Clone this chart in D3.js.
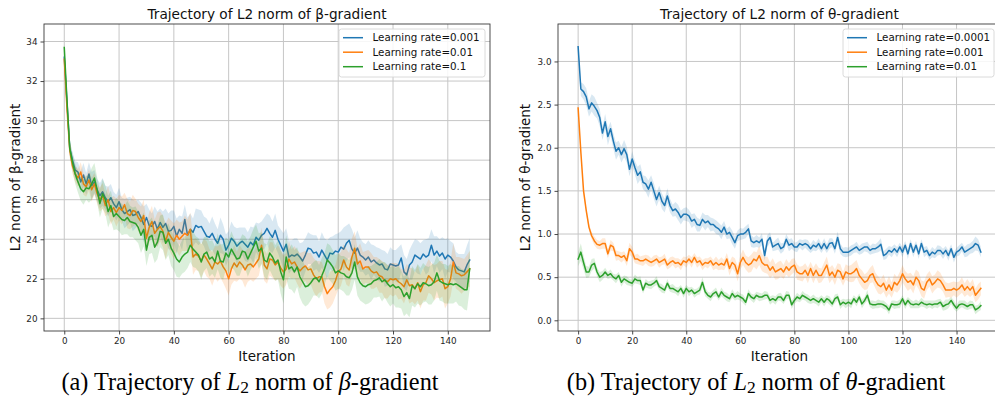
<!DOCTYPE html>
<html><head><meta charset="utf-8">
<script src="https://cdn.jsdelivr.net/npm/d3@7"></script>
<style>
html,body{margin:0;padding:0;background:#fff;}
svg{display:block;}
text{font-family:"DejaVu Sans",sans-serif;}
</style></head>
<body>
<svg id="chart" width="995" height="407"></svg>
<script>
// ---------- DATA ----------
const xTicks = [0, 20, 40, 60, 80, 100, 120, 140];
const betaYTicks = [20, 22, 24, 26, 28, 30, 32, 34];
const thetaYTicks = [0.0, 0.5, 1.0, 1.5, 2.0, 2.5, 3.0];

const betaLabels = ["Learning rate=0.001", "Learning rate=0.01", "Learning rate=0.1"];
const thetaLabels = ["Learning rate=0.0001", "Learning rate=0.001", "Learning rate=0.01"];

const betaBlue = [33.2,30.9,28.6,28.0,27.5,27.4,26.9,27.25,26.8,27.3,
26.7,26.9,26.5,26.2,26.4,26.1,25.9,26.1,25.8,25.6,
25.9,25.5,25.3,25.4,25.5,25.2,25.25,25.4,25.1,24.75,
25.1,24.7,24.65,24.9,24.5,24.85,24.6,24.8,24.4,24.45,
24.65,24.15,24.5,24.3,25.0,24.2,24.5,24.35,24.7,24.6,
24.65,24.4,24.15,24.1,24.3,24.0,23.8,24.2,24.0,23.45,
23.7,24.05,23.9,23.65,23.8,23.9,23.75,23.6,23.85,23.7,
24.1,23.95,24.2,24.3,24.55,24.3,24.1,24.45,24.0,23.7,
23.4,23.75,23.1,23.2,23.15,23.25,23.1,22.9,23.2,23.55,
23.5,23.3,23.35,23.1,23.45,23.2,22.95,23.3,23.25,23.4,
23.35,23.6,23.5,23.8,23.95,23.5,23.3,23.55,23.2,23.1,
22.95,23.1,22.85,22.95,22.8,22.7,22.75,22.5,22.45,22.75,
22.7,22.65,22.7,23.05,22.35,22.2,22.7,22.85,23.2,23.1,
23.0,23.25,23.1,23.2,23.7,23.2,23.4,23.15,23.3,23.0,
23.2,23.1,22.9,22.6,22.45,22.4,22.35,22.7,22.95];

const betaOrange = [33.1,30.6,28.5,27.7,27.3,27.1,27.4,26.8,26.65,27.0,
26.5,26.8,26.3,26.0,26.2,25.7,26.0,25.4,25.6,25.35,
25.6,25.45,25.75,25.3,25.2,25.45,25.4,25.1,24.9,25.2,
24.05,24.6,24.9,24.3,24.5,24.65,24.4,23.9,24.35,24.1,
23.9,24.2,24.0,24.15,24.3,24.2,24.5,23.1,23.25,23.15,
22.9,23.2,23.0,22.75,22.5,22.85,22.75,22.9,22.6,22.4,
22.0,22.5,22.8,22.6,22.85,22.7,22.45,22.7,22.75,22.6,
22.8,23.0,23.7,22.7,22.5,23.0,22.95,22.7,22.85,22.55,
22.35,22.5,23.0,22.75,22.85,22.6,22.4,22.55,22.65,22.45,
22.5,22.2,22.0,22.1,22.1,21.6,21.25,21.45,21.6,21.9,
22.35,22.5,22.95,22.6,22.45,23.1,23.55,22.75,22.9,22.5,
22.6,22.6,22.4,22.3,22.35,22.15,22.1,21.9,21.85,22.0,
21.95,22.0,21.85,21.75,21.6,21.95,21.65,21.7,21.5,21.8,
21.35,21.7,21.8,22.15,22.0,21.8,21.9,21.95,22.0,21.5,
21.6,22.0,22.85,22.3,22.25,22.15,22.2,22.35,22.5];

const betaGreen = [33.7,31.0,28.6,27.9,27.3,26.9,26.55,26.4,26.6,26.55,
26.8,27.1,26.5,25.8,26.3,26.0,25.4,25.7,25.15,25.3,
25.15,25.0,24.95,25.1,24.9,24.85,24.8,24.6,24.2,24.5,
23.45,24.1,24.2,23.6,23.85,24.4,24.35,23.8,24.0,23.55,
23.3,23.0,22.85,23.1,23.25,23.35,23.7,23.5,23.35,23.2,
22.85,23.25,23.35,23.0,23.1,22.85,23.4,22.9,22.85,23.3,
23.1,23.5,23.25,23.0,23.05,23.4,23.35,23.0,23.3,23.6,
23.9,23.4,23.55,22.95,22.85,23.3,23.1,22.8,22.95,22.35,
21.95,23.1,22.5,22.6,22.35,22.6,22.1,21.85,21.6,21.65,
21.8,22.0,22.05,21.85,22.15,22.5,22.95,22.8,22.6,22.3,
22.4,22.3,22.25,22.1,22.05,22.3,22.85,22.1,21.8,21.65,
21.6,21.7,21.75,21.9,21.95,22.05,21.85,21.95,21.75,21.6,
21.7,21.55,21.6,21.45,21.1,21.3,21.0,21.65,21.5,21.75,
21.6,21.8,21.75,21.65,21.7,21.85,22.3,21.9,21.8,21.75,
21.7,21.75,21.7,21.75,21.65,21.55,21.45,21.45,22.5];

const betaBandBlue = [0.15,0.3,0.35,0.4,0.45,0.5,0.55,0.6,0.55,0.6,
0.7,0.6,0.55,0.65,0.7,0.6,0.75,0.7,0.6,0.65,
0.7,0.6,0.75,0.7,0.65,0.8,0.7,0.6,0.75,0.9,
0.7,0.8,0.65,0.75,0.9,0.7,0.8,0.75,0.9,1.0,
0.8,0.9,0.7,0.85,0.75,0.9,0.8,0.7,0.85,0.9,
0.8,0.75,0.9,0.7,0.85,0.8,0.7,0.9,0.75,0.8,
0.7,0.85,0.75,0.9,0.8,0.7,0.85,0.75,0.8,0.9,
0.75,0.85,0.7,0.8,0.75,0.9,0.8,0.85,0.7,0.8,
0.9,0.8,0.85,0.75,0.9,0.8,0.7,0.95,0.85,0.8,
0.75,0.9,0.85,0.8,0.9,0.85,1.0,0.8,0.9,0.85,
0.95,0.8,1.1,0.9,0.85,1.0,0.8,0.9,0.85,0.75,
0.8,0.85,0.9,0.75,0.8,0.85,0.7,0.9,0.8,0.85,
0.75,0.8,0.9,0.7,0.85,0.8,0.75,0.9,0.8,0.85,
0.8,0.7,0.9,0.85,0.8,0.95,0.75,0.85,0.8,1.0,
0.85,0.8,0.9,0.75,0.8,0.85,0.9,1.0,1.1];

const betaBandOrange = [0.15,0.3,0.35,0.4,0.4,0.45,0.5,0.55,0.5,0.55,
0.6,0.55,0.5,0.6,0.65,0.55,0.7,0.65,0.6,0.7,
0.65,0.7,0.6,0.75,0.7,0.8,0.65,0.7,0.75,0.8,
0.7,0.75,0.8,0.7,0.85,0.75,0.8,0.9,0.75,0.85,
0.9,0.8,0.85,0.75,0.9,0.8,0.85,0.9,0.8,0.75,
0.85,0.8,0.9,0.75,0.85,0.8,0.9,0.85,0.8,0.9,
0.85,0.8,0.9,0.75,0.85,0.8,0.9,0.85,0.8,0.75,
0.8,0.85,0.9,0.8,0.75,0.85,0.9,0.8,0.85,0.9,
0.85,0.8,0.9,0.75,0.8,0.85,0.9,0.8,0.75,0.85,
0.8,0.85,0.9,0.8,0.75,0.85,0.8,0.9,0.85,0.8,
0.9,0.85,0.8,0.9,0.85,0.95,0.85,0.8,0.9,0.85,
0.8,0.85,0.9,0.8,0.75,0.85,0.8,0.9,0.85,0.8,
0.85,0.8,0.9,0.75,0.85,0.8,0.9,0.85,0.8,0.9,
0.85,0.8,0.9,0.85,0.8,0.9,0.85,0.95,0.9,1.0,
0.85,0.9,0.95,0.8,0.85,0.9,0.8,0.85,0.9];

const betaBandGreen = [0.2,0.35,0.4,0.45,0.5,0.55,0.6,0.65,0.6,0.7,
0.8,0.75,0.65,0.7,0.75,0.7,0.8,0.75,0.7,0.8,
0.75,0.8,0.7,0.85,0.8,0.75,0.85,0.8,0.9,0.85,
0.8,0.85,0.9,0.8,0.85,0.8,0.9,0.85,0.8,0.9,
0.85,0.9,0.8,0.85,0.9,0.8,0.85,0.9,0.8,0.85,
0.9,0.85,0.8,0.9,0.85,0.8,0.9,0.85,0.9,0.8,
0.85,0.9,0.8,0.85,0.9,0.85,0.8,0.9,0.85,0.9,
0.85,0.9,0.8,0.85,0.9,0.85,0.95,0.9,1.0,1.1,
1.2,1.1,1.0,1.15,1.1,1.0,1.05,1.1,1.0,0.95,
0.9,0.85,0.9,0.85,0.9,0.8,0.85,0.9,0.85,0.9,
0.9,0.85,0.9,0.95,0.9,0.85,0.9,0.95,0.9,0.85,
0.9,0.95,0.9,0.85,0.9,0.95,1.0,0.9,0.95,1.0,
0.95,1.0,1.05,0.95,1.0,1.05,0.95,1.0,0.95,1.0,
0.95,1.0,0.9,0.95,1.0,0.95,0.9,1.0,0.95,1.0,
0.95,1.0,0.95,0.9,1.0,0.95,1.0,1.05,1.0];

const thetaBlue = [3.17,2.68,2.65,2.59,2.45,2.52,2.48,2.43,2.35,2.17,
2.30,2.13,2.22,2.08,1.96,2.00,1.92,1.99,1.92,1.75,
1.87,1.77,1.68,1.72,1.60,1.58,1.52,1.60,1.50,1.40,
1.48,1.38,1.33,1.44,1.33,1.27,1.29,1.25,1.19,1.23,
1.23,1.21,1.15,1.17,1.11,1.10,1.17,1.13,1.15,1.11,
1.11,1.08,1.06,1.02,1.08,1.00,1.02,0.96,0.90,0.98,
1.00,1.00,1.02,1.06,0.92,0.90,0.92,0.90,0.94,0.75,
0.92,0.96,0.85,0.87,0.89,0.83,0.85,0.94,0.87,0.89,
0.85,0.85,0.89,0.87,0.89,0.87,0.83,0.87,0.85,0.89,
0.83,0.89,0.83,0.89,0.90,0.83,0.96,0.83,0.79,0.79,
0.79,0.81,0.83,0.85,0.81,0.83,0.85,0.85,0.81,0.83,
0.83,0.85,0.88,0.75,0.77,0.81,0.79,0.83,0.79,0.85,
0.79,0.87,0.77,0.89,0.79,0.87,0.77,0.89,0.79,0.81,
0.75,0.79,0.77,0.81,0.81,0.77,0.81,0.75,0.83,0.73,
0.79,0.81,0.85,0.79,0.81,0.83,0.85,0.89,0.87,0.79];

const thetaOrange = [2.46,1.95,1.50,1.27,1.08,0.98,0.92,0.88,0.87,0.89,
0.89,0.77,0.87,0.85,0.75,0.75,0.73,0.75,0.69,0.83,
0.79,0.71,0.71,0.69,0.69,0.71,0.69,0.67,0.69,0.71,
0.67,0.69,0.71,0.64,0.67,0.69,0.66,0.67,0.64,0.69,
0.67,0.71,0.67,0.73,0.67,0.69,0.64,0.67,0.66,0.69,
0.64,0.67,0.64,0.66,0.64,0.71,0.60,0.67,0.64,0.54,
0.67,0.73,0.67,0.64,0.66,0.71,0.69,0.75,0.67,0.64,
0.64,0.58,0.62,0.56,0.58,0.60,0.56,0.62,0.58,0.62,
0.64,0.56,0.54,0.54,0.58,0.52,0.60,0.52,0.58,0.52,
0.52,0.58,0.64,0.52,0.56,0.50,0.58,0.56,0.48,0.56,
0.54,0.54,0.56,0.60,0.52,0.48,0.44,0.46,0.52,0.54,
0.46,0.41,0.39,0.43,0.35,0.41,0.35,0.44,0.41,0.46,
0.54,0.48,0.44,0.46,0.41,0.50,0.46,0.37,0.35,0.44,
0.48,0.41,0.44,0.48,0.46,0.41,0.35,0.35,0.35,0.37,
0.35,0.37,0.41,0.35,0.39,0.35,0.39,0.29,0.33,0.37];

const thetaGreen = [0.71,0.79,0.67,0.56,0.56,0.64,0.66,0.56,0.50,0.52,
0.56,0.52,0.54,0.50,0.48,0.52,0.44,0.48,0.46,0.44,
0.43,0.48,0.46,0.46,0.35,0.43,0.41,0.41,0.43,0.46,
0.39,0.37,0.35,0.43,0.37,0.37,0.35,0.33,0.37,0.31,
0.37,0.33,0.35,0.31,0.33,0.35,0.44,0.33,0.29,0.27,
0.31,0.33,0.27,0.33,0.29,0.27,0.25,0.31,0.27,0.29,
0.27,0.25,0.21,0.31,0.27,0.25,0.29,0.27,0.27,0.29,
0.29,0.23,0.25,0.23,0.27,0.27,0.23,0.29,0.29,0.18,
0.23,0.27,0.25,0.29,0.27,0.25,0.23,0.25,0.23,0.21,
0.25,0.21,0.25,0.23,0.19,0.25,0.27,0.18,0.21,0.19,
0.21,0.19,0.25,0.21,0.27,0.19,0.23,0.29,0.19,0.18,
0.18,0.19,0.19,0.18,0.16,0.12,0.19,0.18,0.18,0.19,
0.25,0.18,0.23,0.19,0.18,0.19,0.18,0.21,0.19,0.18,
0.19,0.18,0.19,0.19,0.21,0.16,0.18,0.19,0.23,0.18,
0.14,0.18,0.19,0.18,0.16,0.18,0.18,0.12,0.14,0.17];

const thetaBandBlue = [0.02,0.08,0.09,0.1,0.09,0.1,0.11,0.09,0.1,0.08,
0.09,0.1,0.08,0.09,0.1,0.08,0.09,0.1,0.09,0.08,
0.09,0.08,0.1,0.09,0.08,0.09,0.1,0.08,0.09,0.08,
0.08,0.09,0.08,0.09,0.08,0.07,0.08,0.09,0.08,0.07,
0.08,0.07,0.08,0.07,0.08,0.07,0.08,0.09,0.07,0.08,
0.07,0.08,0.07,0.08,0.07,0.06,0.07,0.08,0.07,0.06,
0.07,0.06,0.07,0.06,0.07,0.06,0.07,0.06,0.07,0.06,
0.07,0.06,0.05,0.06,0.07,0.06,0.05,0.06,0.07,0.06,
0.05,0.06,0.05,0.06,0.05,0.06,0.05,0.06,0.05,0.06,
0.05,0.06,0.05,0.06,0.05,0.06,0.07,0.06,0.05,0.06,
0.05,0.06,0.05,0.06,0.05,0.06,0.05,0.06,0.05,0.06,
0.05,0.06,0.07,0.05,0.06,0.05,0.06,0.05,0.06,0.05,
0.06,0.05,0.06,0.05,0.06,0.05,0.06,0.05,0.06,0.05,
0.05,0.06,0.05,0.06,0.05,0.06,0.05,0.06,0.05,0.06,
0.05,0.06,0.05,0.06,0.07,0.06,0.07,0.08,0.07,0.06];

const thetaBandOrange = [0.01,0.02,0.03,0.03,0.04,0.04,0.05,0.05,0.05,0.06,
0.06,0.05,0.06,0.05,0.06,0.05,0.06,0.05,0.06,0.07,
0.06,0.05,0.06,0.05,0.06,0.05,0.06,0.05,0.06,0.05,
0.06,0.05,0.06,0.05,0.06,0.05,0.06,0.05,0.06,0.05,
0.06,0.05,0.06,0.05,0.06,0.05,0.06,0.05,0.06,0.05,
0.06,0.07,0.06,0.07,0.06,0.07,0.08,0.07,0.08,0.09,
0.08,0.09,0.08,0.09,0.1,0.09,0.1,0.11,0.1,0.09,
0.1,0.09,0.1,0.09,0.1,0.09,0.08,0.09,0.08,0.09,
0.08,0.09,0.08,0.09,0.08,0.09,0.08,0.09,0.08,0.09,
0.08,0.09,0.1,0.09,0.08,0.09,0.08,0.09,0.08,0.09,
0.09,0.1,0.11,0.1,0.09,0.1,0.09,0.1,0.09,0.1,
0.09,0.1,0.09,0.1,0.09,0.1,0.09,0.1,0.09,0.1,
0.1,0.09,0.1,0.09,0.1,0.09,0.1,0.09,0.1,0.09,
0.09,0.1,0.09,0.1,0.09,0.08,0.09,0.08,0.09,0.08,
0.09,0.08,0.09,0.08,0.09,0.08,0.09,0.08,0.09,0.08];

const thetaBandGreen = [0.08,0.1,0.08,0.07,0.06,0.07,0.06,0.05,0.06,0.05,
0.05,0.04,0.05,0.04,0.05,0.04,0.05,0.04,0.05,0.04,
0.04,0.05,0.04,0.05,0.04,0.05,0.04,0.05,0.04,0.05,
0.04,0.05,0.04,0.05,0.04,0.05,0.04,0.05,0.04,0.05,
0.04,0.05,0.04,0.05,0.04,0.05,0.06,0.05,0.04,0.05,
0.04,0.05,0.04,0.05,0.04,0.05,0.04,0.05,0.04,0.05,
0.04,0.05,0.04,0.05,0.04,0.05,0.04,0.05,0.04,0.05,
0.04,0.05,0.04,0.05,0.04,0.05,0.04,0.05,0.04,0.05,
0.04,0.05,0.04,0.05,0.04,0.05,0.04,0.05,0.04,0.05,
0.04,0.05,0.04,0.05,0.04,0.05,0.04,0.05,0.04,0.05,
0.04,0.05,0.04,0.05,0.04,0.05,0.04,0.06,0.04,0.05,
0.04,0.05,0.04,0.05,0.04,0.05,0.04,0.05,0.04,0.05,
0.04,0.05,0.04,0.05,0.04,0.05,0.04,0.05,0.04,0.05,
0.04,0.05,0.04,0.05,0.04,0.05,0.06,0.05,0.04,0.05,
0.04,0.05,0.04,0.05,0.04,0.05,0.04,0.05,0.04,0.05];

const colors = ["#1f77b4", "#ff7f0e", "#2ca02c"];

// ---------- DRAW ----------
const svg = d3.select("#chart");

function panel(cfg) {
  const g = svg.append("g");
  const x = d3.scaleLinear().domain(cfg.xDomain).range([cfg.left, cfg.right]);
  const y = d3.scaleLinear().domain(cfg.yDomain).range([cfg.bottom, cfg.top]);
  const clipId = "clip" + cfg.id;
  svg.append("clipPath").attr("id", clipId).append("rect")
    .attr("x", cfg.left).attr("y", cfg.top)
    .attr("width", cfg.right - cfg.left).attr("height", cfg.bottom - cfg.top);

  // grid
  g.append("g").selectAll("line").data(xTicks).join("line")
    .attr("x1", d => x(d)).attr("x2", d => x(d))
    .attr("y1", cfg.top).attr("y2", cfg.bottom)
    .attr("stroke", "#c6c6c6").attr("stroke-width", 1);
  g.append("g").selectAll("line").data(cfg.yTicks).join("line")
    .attr("x1", cfg.left).attr("x2", cfg.right)
    .attr("y1", d => y(d)).attr("y2", d => y(d))
    .attr("stroke", "#c6c6c6").attr("stroke-width", 1);

  const plot = g.append("g").attr("clip-path", `url(#${clipId})`);
  cfg.series.forEach((s, k) => {
    const data = s.values.map((v, i) => ({ i, v, w: s.band[i] }));
    plot.append("path").datum(data)
      .attr("d", d3.area().x(d => x(d.i)).y0(d => y(d.v - d.w)).y1(d => y(d.v + d.w)))
      .attr("fill", colors[k]).attr("fill-opacity", 0.17).attr("stroke", "none");
    plot.append("path").datum(data)
      .attr("d", d3.line().x(d => x(d.i)).y(d => y(d.v)))
      .attr("fill", "none").attr("stroke", colors[k]).attr("stroke-width", 1.5)
      .attr("stroke-linejoin", "round").attr("stroke-linecap", "square");
  });

  // axes
  const xa = g.append("g").attr("transform", `translate(0,${cfg.bottom})`)
    .call(d3.axisBottom(x).tickValues(xTicks).tickSize(3.5).tickPadding(3).tickFormat(d3.format("d")));
  const ya = g.append("g").attr("transform", `translate(${cfg.left},0)`)
    .call(d3.axisLeft(y).tickValues(cfg.yTicks).tickSize(3.5).tickPadding(3).tickFormat(cfg.fmt));
  [xa, ya].forEach(a => {
    a.select(".domain").remove();
    a.selectAll(".tick line").attr("stroke", "#333").attr("stroke-width", 0.9);
    a.selectAll(".tick text").attr("fill", "#262626").style("font-size", "8.8px")
      .style("font-family", "DejaVu Sans");
  });
  // spines
  g.append("rect").attr("x", cfg.left).attr("y", cfg.top)
    .attr("width", cfg.right - cfg.left).attr("height", cfg.bottom - cfg.top)
    .attr("fill", "none").attr("stroke", "#3a3a3a").attr("stroke-width", 0.9);

  // title and labels
  const cx = (cfg.left + cfg.right) / 2;
  g.append("text").attr("x", cx).attr("y", 18.5).attr("text-anchor", "middle")
    .style("font-size", "13.7px").attr("fill", "#111").text(cfg.title);
  g.append("text").attr("x", cx).attr("y", 360.5).attr("text-anchor", "middle")
    .style("font-size", "13.5px").attr("fill", "#111").text("Iteration");
  g.append("text").attr("transform", `translate(${cfg.ylabX},${(cfg.top + cfg.bottom) / 2}) rotate(-90)`)
    .attr("text-anchor", "middle").style("font-size", "13.5px").attr("fill", "#111").text(cfg.ylabel);

  // legend
  const lg = g.append("g");
  lg.append("rect").attr("x", cfg.legX).attr("y", 29).attr("width", cfg.legW).attr("height", 48)
    .attr("rx", 2.5).attr("fill", "#fff").attr("fill-opacity", 0.85)
    .attr("stroke", "#d6d6d6").attr("stroke-width", 0.9);
  cfg.labels.forEach((lab, k) => {
    const yy = 37.7 + k * 14.5;
    lg.append("line").attr("x1", cfg.legX + 4).attr("x2", cfg.legX + 24)
      .attr("y1", yy).attr("y2", yy).attr("stroke", colors[k]).attr("stroke-width", 1.5);
    lg.append("text").attr("x", cfg.legX + 33.5).attr("y", yy + 3.7)
      .style("font-size", "10.3px").attr("fill", "#111").text(lab);
  });
}

panel({
  id: "a", left: 44, right: 490, top: 24, bottom: 331,
  xDomain: [-7.4, 155.4], yDomain: [19.36, 34.885],
  yTicks: betaYTicks, fmt: d3.format("d"),
  title: "Trajectory of L2 norm of β-gradient", ylabel: "L2 norm of β-gradient", ylabX: 19.5,
  labels: betaLabels, legX: 339, legW: 146,
  series: [
    { values: betaBlue, band: betaBandBlue },
    { values: betaOrange, band: betaBandOrange },
    { values: betaGreen, band: betaBandGreen }
  ]
});

panel({
  id: "b", left: 558, right: 1001, top: 24, bottom: 331,
  xDomain: [-7.45, 156.45], yDomain: [-0.124, 3.434],
  yTicks: thetaYTicks, fmt: d3.format(".1f"),
  title: "Trajectory of L2 norm of θ-gradient", ylabel: "L2 norm of θ-gradient", ylabX: 529.5,
  labels: thetaLabels, legX: 843, legW: 151,
  series: [
    { values: thetaBlue, band: thetaBandBlue },
    { values: thetaOrange, band: thetaBandOrange },
    { values: thetaGreen, band: thetaBandGreen }
  ]
});

// captions
function caption(cx, letter, sym) {
  const t = svg.append("text").attr("x", cx).attr("y", 389.5).attr("text-anchor", "middle")
    .style("font-family", "'Liberation Serif','Times New Roman',serif").style("font-size", "24.3px")
    .attr("fill", "#000");
  t.append("tspan").text(`(${letter}) Trajectory of `);
  t.append("tspan").style("font-style", "italic").text("L");
  t.append("tspan").attr("dy", 3.5).style("font-size", "17.5px").text("2");
  t.append("tspan").attr("dy", -3.5).text(" norm of ");
  t.append("tspan").style("font-style", "italic").text(sym);
  t.append("tspan").text("-gradient");
}
caption(250, "a", "β");
caption(756, "b", "θ");
</script>
</body></html>
